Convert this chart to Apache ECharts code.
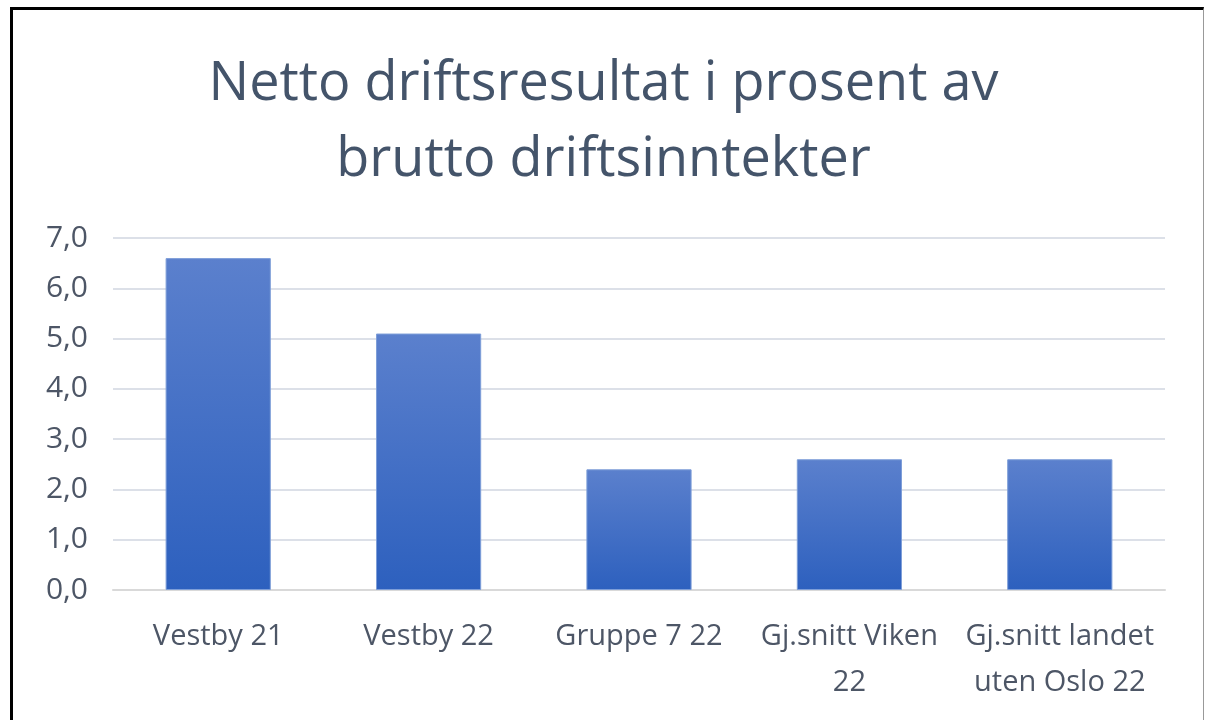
<!DOCTYPE html>
<html><head><meta charset="utf-8">
<script src="https://cdn.jsdelivr.net/npm/echarts@6/dist/echarts.min.js"></script>
<style>
html,body{margin:0;padding:0;background:#fff;overflow:hidden;}
#c{width:1207px;height:720px;position:absolute;left:0;top:0;}
#frame{position:absolute;left:10px;top:7px;width:1194px;height:800px;border-left:3px solid #000;border-top:3px solid #000;border-right:1px solid #999;box-sizing:border-box;pointer-events:none;}
</style></head>
<body>
<div id="c"></div>
<div id="frame"></div>
<script>
const categories = ['Vestby 21', 'Vestby 22', 'Gruppe 7 22', 'Gj.snitt Viken\n22', 'Gj.snitt landet\nuten Oslo 22'];
const values = [6.6, 5.1, 2.4, 2.6, 2.6];
const titleText = 'Netto driftsresultat i prosent av\nbrutto driftsinntekter';

const chart = echarts.init(document.getElementById('c'), null, {renderer: 'canvas'});
const font = '"Open Sans", Lato, sans-serif';
chart.setOption({
  animation: false,
  backgroundColor: '#fff',
  title: {
    text: titleText,
    left: 'center',
    top: 42,
    textStyle: {fontFamily: font, fontSize: 54, fontWeight: 'normal', color: '#44546A', lineHeight: 76}
  },
  grid: {left: 113, right: 42, top: 238, bottom: 130, containLabel: false},
  xAxis: {
    type: 'category',
    data: categories,
    axisLine: {show: true, lineStyle: {color: '#D9D9D9', width: 2}},
    axisTick: {show: false},
    axisLabel: {fontFamily: font, fontSize: 29, color: '#4D5666', margin: 24, lineHeight: 46, interval: 0}
  },
  yAxis: {
    type: 'value',
    min: 0, max: 7, interval: 1,
    axisLine: {show: false},
    axisTick: {show: false},
    splitLine: {lineStyle: {color: '#DCE0E8', width: 2}},
    axisLabel: {fontFamily: font, fontSize: 30, color: '#4D5666', margin: 25,
      formatter: v => v.toFixed(1).replace('.', ',')}
  },
  series: [{
    type: 'bar',
    data: values,
    barWidth: '50%',
    itemStyle: {
      color: new echarts.graphic.LinearGradient(0, 0, 0, 1, [
        {offset: 0, color: '#5B80CD'},
        {offset: 1, color: '#2D60BE'}
      ]),
      borderColor: '#7E9ED8', borderWidth: 1
    }
  }]
});
</script>
</body></html>
